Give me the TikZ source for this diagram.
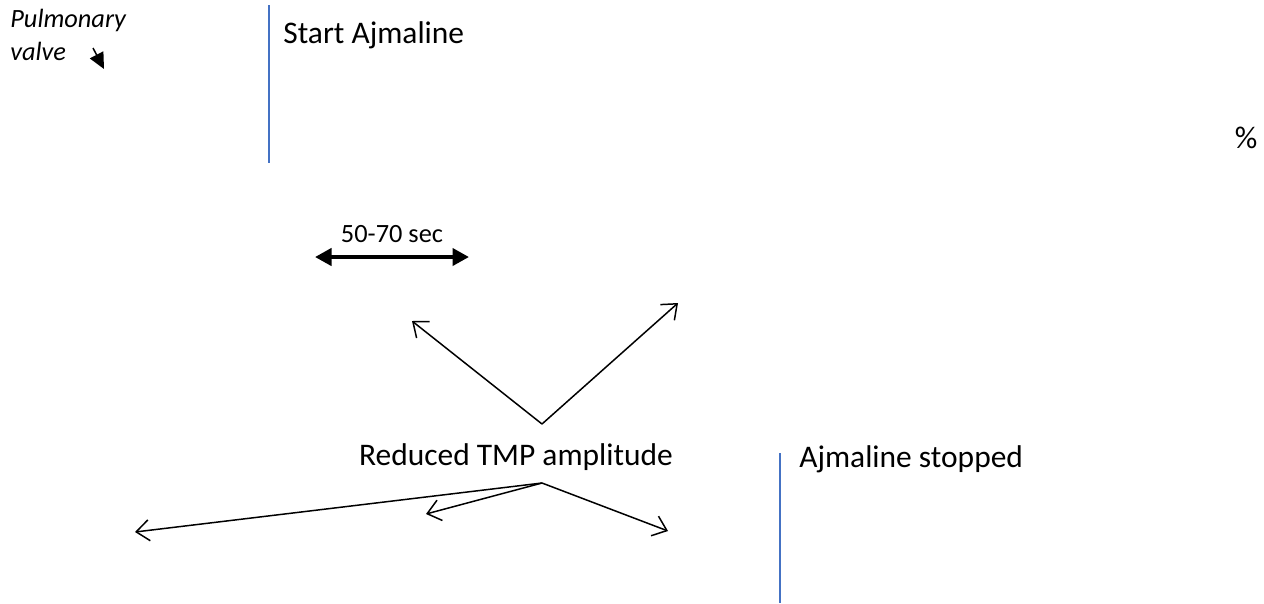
\documentclass[tikz,border=0pt]{standalone}
\usepackage{fontspec}
\setmainfont{Carlito}
\usepackage{tikz}
\usetikzlibrary{arrows.meta,positioning,calc}

\definecolor{markblue}{HTML}{4472C4}

\begin{document}
\begin{tikzpicture}[
  x=0.02cm, y=-0.02cm,
  bigtxt/.style={inner sep=0pt, anchor=base west, font=\fontsize{17.9}{21}\selectfont},
  smalltxt/.style={inner sep=0pt, font=\fontsize{15}{18.7}\selectfont},
  marker/.style={draw=markblue, line width=1.3pt},
  arrow/.style={-{Straight Barb[length=2.6mm, width=4.2mm]}, line width=0.85pt},
  spanarrow/.style={{Triangle[length=3.3mm, width=3.4mm]}-{Triangle[length=3.3mm, width=3.4mm]}, line width=2.3pt},
  pointer/.style={-{Triangle[length=3.2mm, width=3mm]}, line width=0.85pt},
]
\useasboundingbox (0,0) rectangle (1264,603);

% labels
\node[smalltxt, anchor=north west, align=left, font=\fontsize{15}{18.7}\selectfont\itshape] (valve) at (10,9) {Pulmonary\\valve};
\node[bigtxt] (start) at (283,43) {Start Ajmaline};
\node[bigtxt] (stop) at (799,467) {Ajmaline stopped};
\node[bigtxt, anchor=base] (tmp) at (516,465) {Reduced TMP amplitude};
\node[smalltxt, anchor=base] (span) at (392,242) {50-70 sec};
\node[bigtxt, anchor=center] (pct) at (1246,138) {\%};

% start and stop marks
\coordinate (starttop) at (269,5);
\coordinate (startbot) at (269,163);
\coordinate (stoptop) at (780,453);
\coordinate (stopbot) at (780,603);
\draw[marker] (starttop) -- (startbot);
\draw[marker] (stoptop) -- (stopbot);

% pulmonary valve pointer
\coordinate (vtail) at (93,48);
\coordinate (vtip) at (104,69);
\draw[pointer] (vtail) -- (vtip);

% duration
\coordinate (spanl) at (315,257);
\coordinate (spanr) at (469,257);
\draw[spanarrow] (spanl) -- (spanr);

% upper arrows
\coordinate (up) at (542,424);
\coordinate (upl) at (412,321);
\coordinate (upr) at (678,303);
\draw[arrow] (up) -- (upl);
\draw[arrow] (up) -- (upr);

% lower arrows
\coordinate (down) at (542,483);
\coordinate (downa) at (135,532);
\coordinate (downb) at (426,514);
\coordinate (downc) at (668,531);
\draw[arrow] (down) -- (downa);
\draw[arrow] (down) -- (downb);
\draw[arrow] (down) -- (downc);

\end{tikzpicture}
\end{document}
